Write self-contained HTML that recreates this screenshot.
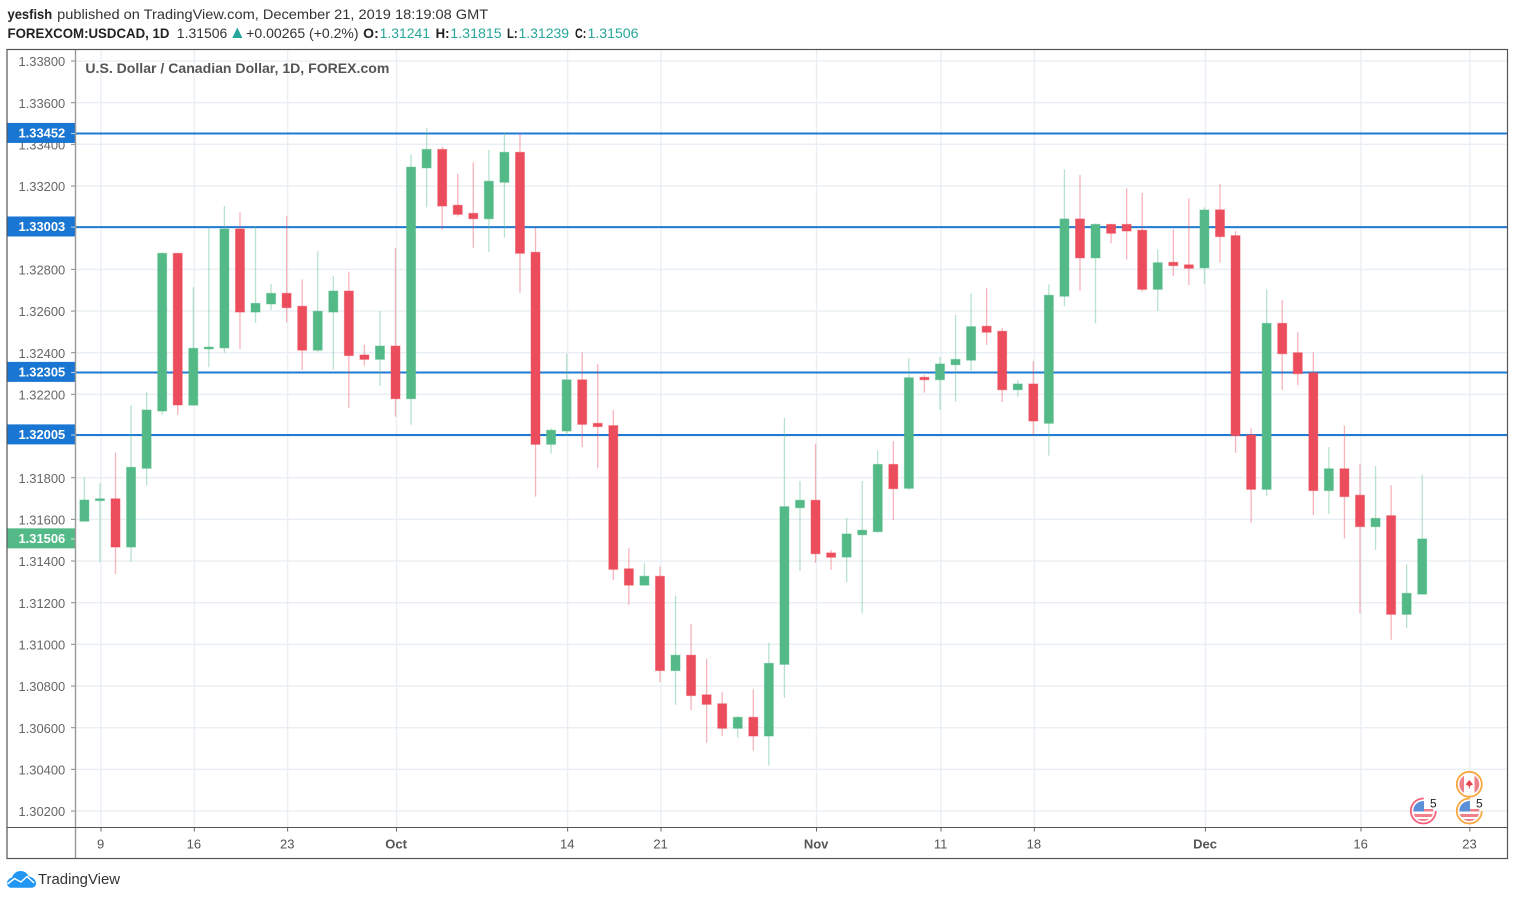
<!DOCTYPE html>
<html lang="en">
<head>
<meta charset="utf-8">
<title>FOREXCOM:USDCAD, 1D</title>
<style>
html,body{margin:0;padding:0;background:#fff;width:1515px;height:900px;overflow:hidden}
svg{display:block}
text{font-family:"Liberation Sans",sans-serif}
</style>
</head>
<body>
<svg id="chart" xmlns="http://www.w3.org/2000/svg" width="1515" height="900" viewBox="0 0 1515 900">
  <g>
    <text x="7.5" y="19" font-size="14" font-weight="bold" fill="#222" textLength="44.7" lengthAdjust="spacingAndGlyphs">yesfish</text>
    <text x="57.2" y="19" font-size="14" fill="#333" textLength="431" lengthAdjust="spacingAndGlyphs">published on TradingView.com, December 21, 2019 18:19:08 GMT</text>
  </g>
  <g>
    <text x="7.5" y="38" font-size="14" font-weight="bold" fill="#222" textLength="162" lengthAdjust="spacingAndGlyphs">FOREXCOM:USDCAD, 1D</text>
    <text x="176.8" y="38" font-size="14" fill="#333" textLength="50.5" lengthAdjust="spacingAndGlyphs">1.31506</text>
    <polygon points="232.3,38 242.4,38 237.3,27.5" fill="#26a69a"/>
    <text x="246.2" y="38" font-size="14" fill="#333" textLength="112.4" lengthAdjust="spacingAndGlyphs">+0.00265 (+0.2%)</text>
    <text x="363.2" y="38" font-size="14" font-weight="bold" fill="#222" textLength="15.6" lengthAdjust="spacingAndGlyphs">O:</text>
    <text x="379.6" y="38" font-size="14" fill="#26a69a" textLength="50.4" lengthAdjust="spacingAndGlyphs">1.31241</text>
    <text x="435.6" y="38" font-size="14" font-weight="bold" fill="#222" textLength="13.9" lengthAdjust="spacingAndGlyphs">H:</text>
    <text x="450.3" y="38" font-size="14" fill="#26a69a" textLength="51.4" lengthAdjust="spacingAndGlyphs">1.31815</text>
    <text x="507" y="38" font-size="14" font-weight="bold" fill="#222" textLength="10.7" lengthAdjust="spacingAndGlyphs">L:</text>
    <text x="518.5" y="38" font-size="14" fill="#26a69a" textLength="50.5" lengthAdjust="spacingAndGlyphs">1.31239</text>
    <text x="575" y="38" font-size="14" font-weight="bold" fill="#222" textLength="11.3" lengthAdjust="spacingAndGlyphs">C:</text>
    <text x="587.5" y="38" font-size="14" fill="#26a69a" textLength="51" lengthAdjust="spacingAndGlyphs">1.31506</text>
  </g>
  <g id="grid"></g>
  <g id="yTicks"></g>
  <g id="xTicks"></g>
  <g id="levels"></g>
  <g id="candles"></g>
  <g id="labels"></g>
  <text x="85.4" y="73" font-size="14" font-weight="bold" fill="#555" textLength="304" lengthAdjust="spacingAndGlyphs">U.S. Dollar / Canadian Dollar, 1D, FOREX.com</text>
  <line x1="75.5" y1="50" x2="75.5" y2="858" stroke="#999" stroke-width="1.4"/>
  <line x1="7" y1="827.5" x2="1507" y2="827.5" stroke="#555" stroke-width="1"/>
  <rect x="7" y="49.5" width="1500.5" height="809" fill="none" stroke="#555" stroke-width="1.2"/>
  <defs>
    <clipPath id="c1"><circle cx="1469.3" cy="784.3" r="10"/></clipPath>
    <clipPath id="c2"><circle cx="1423.3" cy="811" r="10"/></clipPath>
    <clipPath id="c3"><circle cx="1469.3" cy="811" r="10"/></clipPath>
  </defs>
  <g>
    <g clip-path="url(#c2)">
      <rect x="1413" y="801" width="21" height="21" fill="#fff"/>
      <rect x="1413" y="801" width="11" height="10.5" fill="#5b8fd8"/>
      <rect x="1424" y="809" width="10" height="2.5" fill="#f07f8a"/>
      <rect x="1413" y="814" width="21" height="3" fill="#f07f8a"/>
      <rect x="1413" y="819" width="21" height="3" fill="#f07f8a"/>
    </g>
    <circle cx="1423.3" cy="811" r="12.5" fill="none" stroke="#f4607a" stroke-width="1.8" stroke-dasharray="59 19.5"/>
    <text x="1430" y="807.5" font-size="12" fill="#222">5</text>
  </g>
  <g>
    <g clip-path="url(#c3)">
      <rect x="1459" y="801" width="21" height="21" fill="#fff"/>
      <rect x="1459" y="801" width="11" height="10.5" fill="#5b8fd8"/>
      <rect x="1470" y="809" width="10" height="2.5" fill="#f07f8a"/>
      <rect x="1459" y="814" width="21" height="3" fill="#f07f8a"/>
      <rect x="1459" y="819" width="21" height="3" fill="#f07f8a"/>
    </g>
    <circle cx="1469.3" cy="811" r="12.5" fill="none" stroke="#f9a73e" stroke-width="1.8" stroke-dasharray="59 19.5"/>
    <text x="1476" y="807.5" font-size="12" fill="#222">5</text>
  </g>
  <g>
    <g clip-path="url(#c1)">
      <rect x="1459" y="774" width="21" height="21" fill="#fff"/>
      <rect x="1459" y="774" width="5" height="21" fill="#f07f8a"/>
      <rect x="1474.5" y="774" width="5.5" height="21" fill="#f07f8a"/>
      <polygon points="1469.3,780 1473,784.5 1469.8,786 1469.8,788.5 1468.8,788.5 1468.8,786 1465.6,784.5" fill="#e8414f"/>
    </g>
    <circle cx="1469.3" cy="784.3" r="12.5" fill="#ffffff00" stroke="#f9a73e" stroke-width="1.8"/>
  </g>
  <g>
    <path d="M7 883 C7 880 10 878 12 877.5 C13.5 873 17 871 20.5 871 C24.5 871 27.5 873 28.5 876.5 C33 877 36 880 36 883.5 C36 886 34 887.8 31 887.8 L11.5 887.8 C9 887.8 7 886 7 883 Z" fill="#2196f3"/>
    <polyline points="7.5,884 14.5,878.5 21,882 27,876.5 34,883" fill="none" stroke="#fff" stroke-width="1.5"/>
    <text x="38" y="884" font-size="14.5" fill="#333" textLength="82" lengthAdjust="spacingAndGlyphs">TradingView</text>
  </g>
</svg>
<script>
const opens=[1.31591,1.31690,1.31699,1.31467,1.31845,1.32120,1.32877,1.32148,1.32418,1.32423,1.32994,1.32595,1.32634,1.32685,1.32623,1.32412,1.32595,1.32696,1.32389,1.32368,1.32432,1.32179,1.33287,1.33376,1.33108,1.33069,1.33043,1.33218,1.33362,1.32882,1.31960,1.32024,1.32270,1.32061,1.32050,1.31363,1.31284,1.31327,1.30874,1.30948,1.30758,1.30715,1.30597,1.30650,1.30560,1.30904,1.31656,1.31692,1.31439,1.31419,1.31526,1.31541,1.31864,1.31749,1.32282,1.32270,1.32342,1.32364,1.32527,1.32503,1.32222,1.32250,1.32061,1.32671,1.33042,1.32855,1.33016,1.33016,1.32988,1.32704,1.32834,1.32822,1.32807,1.33086,1.32962,1.32005,1.31744,1.32541,1.32400,1.32303,1.31738,1.31843,1.31716,1.31565,1.31618,1.31144,1.31241];
const highs=[1.31802,1.31773,1.31920,1.32148,1.32210,1.32882,1.32879,1.32714,1.33002,1.33104,1.33074,1.33008,1.32730,1.33055,1.32752,1.32887,1.32768,1.32789,1.32438,1.32599,1.32903,1.33352,1.33479,1.33389,1.33259,1.33314,1.33372,1.33458,1.33453,1.33003,1.32037,1.32395,1.32402,1.32346,1.32125,1.31461,1.31389,1.31373,1.31234,1.31099,1.30931,1.30770,1.30656,1.30784,1.31007,1.32087,1.31784,1.31963,1.31454,1.31607,1.31784,1.31932,1.31975,1.32373,1.32293,1.32379,1.32581,1.32685,1.32709,1.32519,1.32268,1.32359,1.32728,1.33280,1.33253,1.33021,1.33018,1.33189,1.33167,1.32896,1.32992,1.33141,1.33098,1.33210,1.32984,1.32037,1.32704,1.32653,1.32498,1.32402,1.31947,1.32050,1.31866,1.31856,1.31764,1.31384,1.31815];
const lows=[1.31591,1.31394,1.31338,1.31397,1.31764,1.32104,1.32102,1.32147,1.32330,1.32400,1.32418,1.32543,1.32605,1.32546,1.32317,1.32402,1.32318,1.32136,1.32338,1.32240,1.32093,1.32054,1.33098,1.32990,1.33053,1.32904,1.32882,1.32952,1.32688,1.31709,1.31915,1.32002,1.31947,1.31845,1.31310,1.31190,1.31284,1.30819,1.30710,1.30684,1.30528,1.30560,1.30552,1.30490,1.30418,1.30744,1.31352,1.31391,1.31358,1.31299,1.31147,1.31536,1.31597,1.31741,1.32208,1.32125,1.32165,1.32312,1.32438,1.32163,1.32189,1.32002,1.31906,1.32623,1.32698,1.32541,1.32925,1.32848,1.32693,1.32600,1.32768,1.32725,1.32730,1.32832,1.31919,1.31583,1.31714,1.32222,1.32244,1.31621,1.31627,1.31509,1.31147,1.31453,1.31022,1.31077,1.31239];
const closes=[1.31693,1.31699,1.31467,1.31850,1.32125,1.32877,1.32149,1.32421,1.32427,1.32994,1.32595,1.32637,1.32685,1.32616,1.32412,1.32599,1.32696,1.32386,1.32368,1.32432,1.32179,1.33291,1.33376,1.33104,1.33064,1.33043,1.33223,1.33362,1.32877,1.31960,1.32028,1.32270,1.32056,1.32045,1.31360,1.31284,1.31327,1.30874,1.30948,1.30754,1.30712,1.30597,1.30650,1.30560,1.30909,1.31661,1.31692,1.31435,1.31418,1.31530,1.31548,1.31864,1.31747,1.32280,1.32270,1.32346,1.32368,1.32525,1.32498,1.32222,1.32250,1.32072,1.32676,1.33042,1.32855,1.33016,1.32973,1.32984,1.32704,1.32832,1.32818,1.32805,1.33085,1.32957,1.32002,1.31744,1.32541,1.32395,1.32299,1.31738,1.31843,1.31709,1.31565,1.31605,1.31144,1.31245,1.31506];
const priceTicks=[1.338,1.336,1.334,1.332,1.33,1.328,1.326,1.324,1.322,1.32,1.318,1.316,1.314,1.312,1.31,1.308,1.306,1.304,1.302];
const timeTickLabels=["9","16","23","Oct","14","21","Nov","11","18","Dec","16","23"];
const timeTickBars=[1,7,13,20,31,37,47,55,61,72,82,89];
const levelPrices=[1.33452,1.33003,1.32305,1.32005];
const lastPrice=1.31506;

const SVG_NS="http://www.w3.org/2000/svg";
const UP="#53b987";
const DOWN="#eb4d5c";
const yScale=function(price){return 477.7-(price-1.318)*20833;};
const xScale=function(bar){return 84.4+15.556*bar;};
const PLOT_LEFT=75;
const PLOT_RIGHT=1507;
function make(tag,attrs,parent){
  const el=document.createElementNS(SVG_NS,tag);
  for(const k in attrs){el.setAttribute(k,attrs[k]);}
  parent.appendChild(el);
  return el;
}
const grid=document.getElementById("grid");
const yTicksG=document.getElementById("yTicks");
const xTicksG=document.getElementById("xTicks");
const levelsG=document.getElementById("levels");
const candlesG=document.getElementById("candles");
const labelsG=document.getElementById("labels");

priceTicks.forEach(function(p){
  const y=yScale(p);
  const g=make("line",{x1:PLOT_LEFT,x2:PLOT_RIGHT,y1:y,y2:y,stroke:"#e9eff4","stroke-width":1.4},grid);
  
  
  const t=make("line",{x1:71,x2:75,y1:y,y2:y,stroke:"#888","stroke-width":1},yTicksG);
  
  
  const l=make("text",{x:18.5,y:y+5.2,"font-size":13,fill:"#666",textLength:46.7,lengthAdjust:"spacingAndGlyphs"},yTicksG);
  
  
  l.textContent=p.toFixed(5);
});

timeTickBars.forEach(function(bar,i){
  const x=xScale(bar)+1;
  const g=make("line",{x1:x,x2:x,y1:50,y2:827,stroke:"#e9eff4","stroke-width":1.4},grid);
  
  
  const t=make("line",{x1:x,x2:x,y1:827,y2:831.5,stroke:"#666","stroke-width":1},xTicksG);
  
  
  const name=timeTickLabels[i];
  const isMonth=isNaN(Number(name));
  const l=make("text",{x:x-0.4,y:848.5,"font-size":13,"text-anchor":"middle",fill:"#555","font-weight":isMonth?"bold":"normal"},xTicksG);
  
  
  l.textContent=name;
});

levelPrices.forEach(function(p){
  const y=yScale(p);
  const line=make("line",{x1:PLOT_LEFT,x2:PLOT_RIGHT,y1:y,y2:y,stroke:"#1f7ad3","stroke-width":2},levelsG);
  
  
  const box=make("rect",{x:7,y:y-10.6,width:68,height:20,fill:"#1976d2"},labelsG);
  
  
  const tick=make("line",{x1:71,x2:75,y1:y,y2:y,stroke:"#bcd8f3","stroke-width":1},labelsG);
  
  
  const txt=make("text",{x:18.5,y:y+4,"font-size":13,"font-weight":"bold",fill:"#fff",textLength:46.7,lengthAdjust:"spacingAndGlyphs"},labelsG);
  
  
  txt.textContent=p.toFixed(5);
});

(function(){
  const y=yScale(lastPrice);
  const box=make("rect",{x:7,y:y-10.6,width:68,height:20,fill:UP},labelsG);
  
  
  const tick=make("line",{x1:71,x2:75,y1:y,y2:y,stroke:"#cdeadb","stroke-width":1},labelsG);
  
  
  const txt=make("text",{x:18.5,y:y+4,"font-size":13,"font-weight":"bold",fill:"#fff",textLength:46.7,lengthAdjust:"spacingAndGlyphs"},labelsG);
  
  
  txt.textContent=lastPrice.toFixed(5);
})();

opens.forEach(function(open,i){
  const close=closes[i];
  const up=close>=open;
  const color=up?UP:DOWN;
  const x=xScale(i);
  const g=make("g",{},candlesG);
  
  
  const wick=make("line",{x1:x,x2:x,y1:yScale(highs[i]),y2:yScale(lows[i]),stroke:color,"stroke-width":1.3,"stroke-opacity":0.42},g);
  
  
  const top=yScale(Math.max(open,close));
  const bottom=yScale(Math.min(open,close));
  const h=Math.max(bottom-top,1.5);
  const body=make("rect",{x:x-4.5,y:top,width:9,height:h,fill:color,stroke:color,"stroke-opacity":0.45,"stroke-width":1},g);
  
  
});
</script>
</body>
</html>
